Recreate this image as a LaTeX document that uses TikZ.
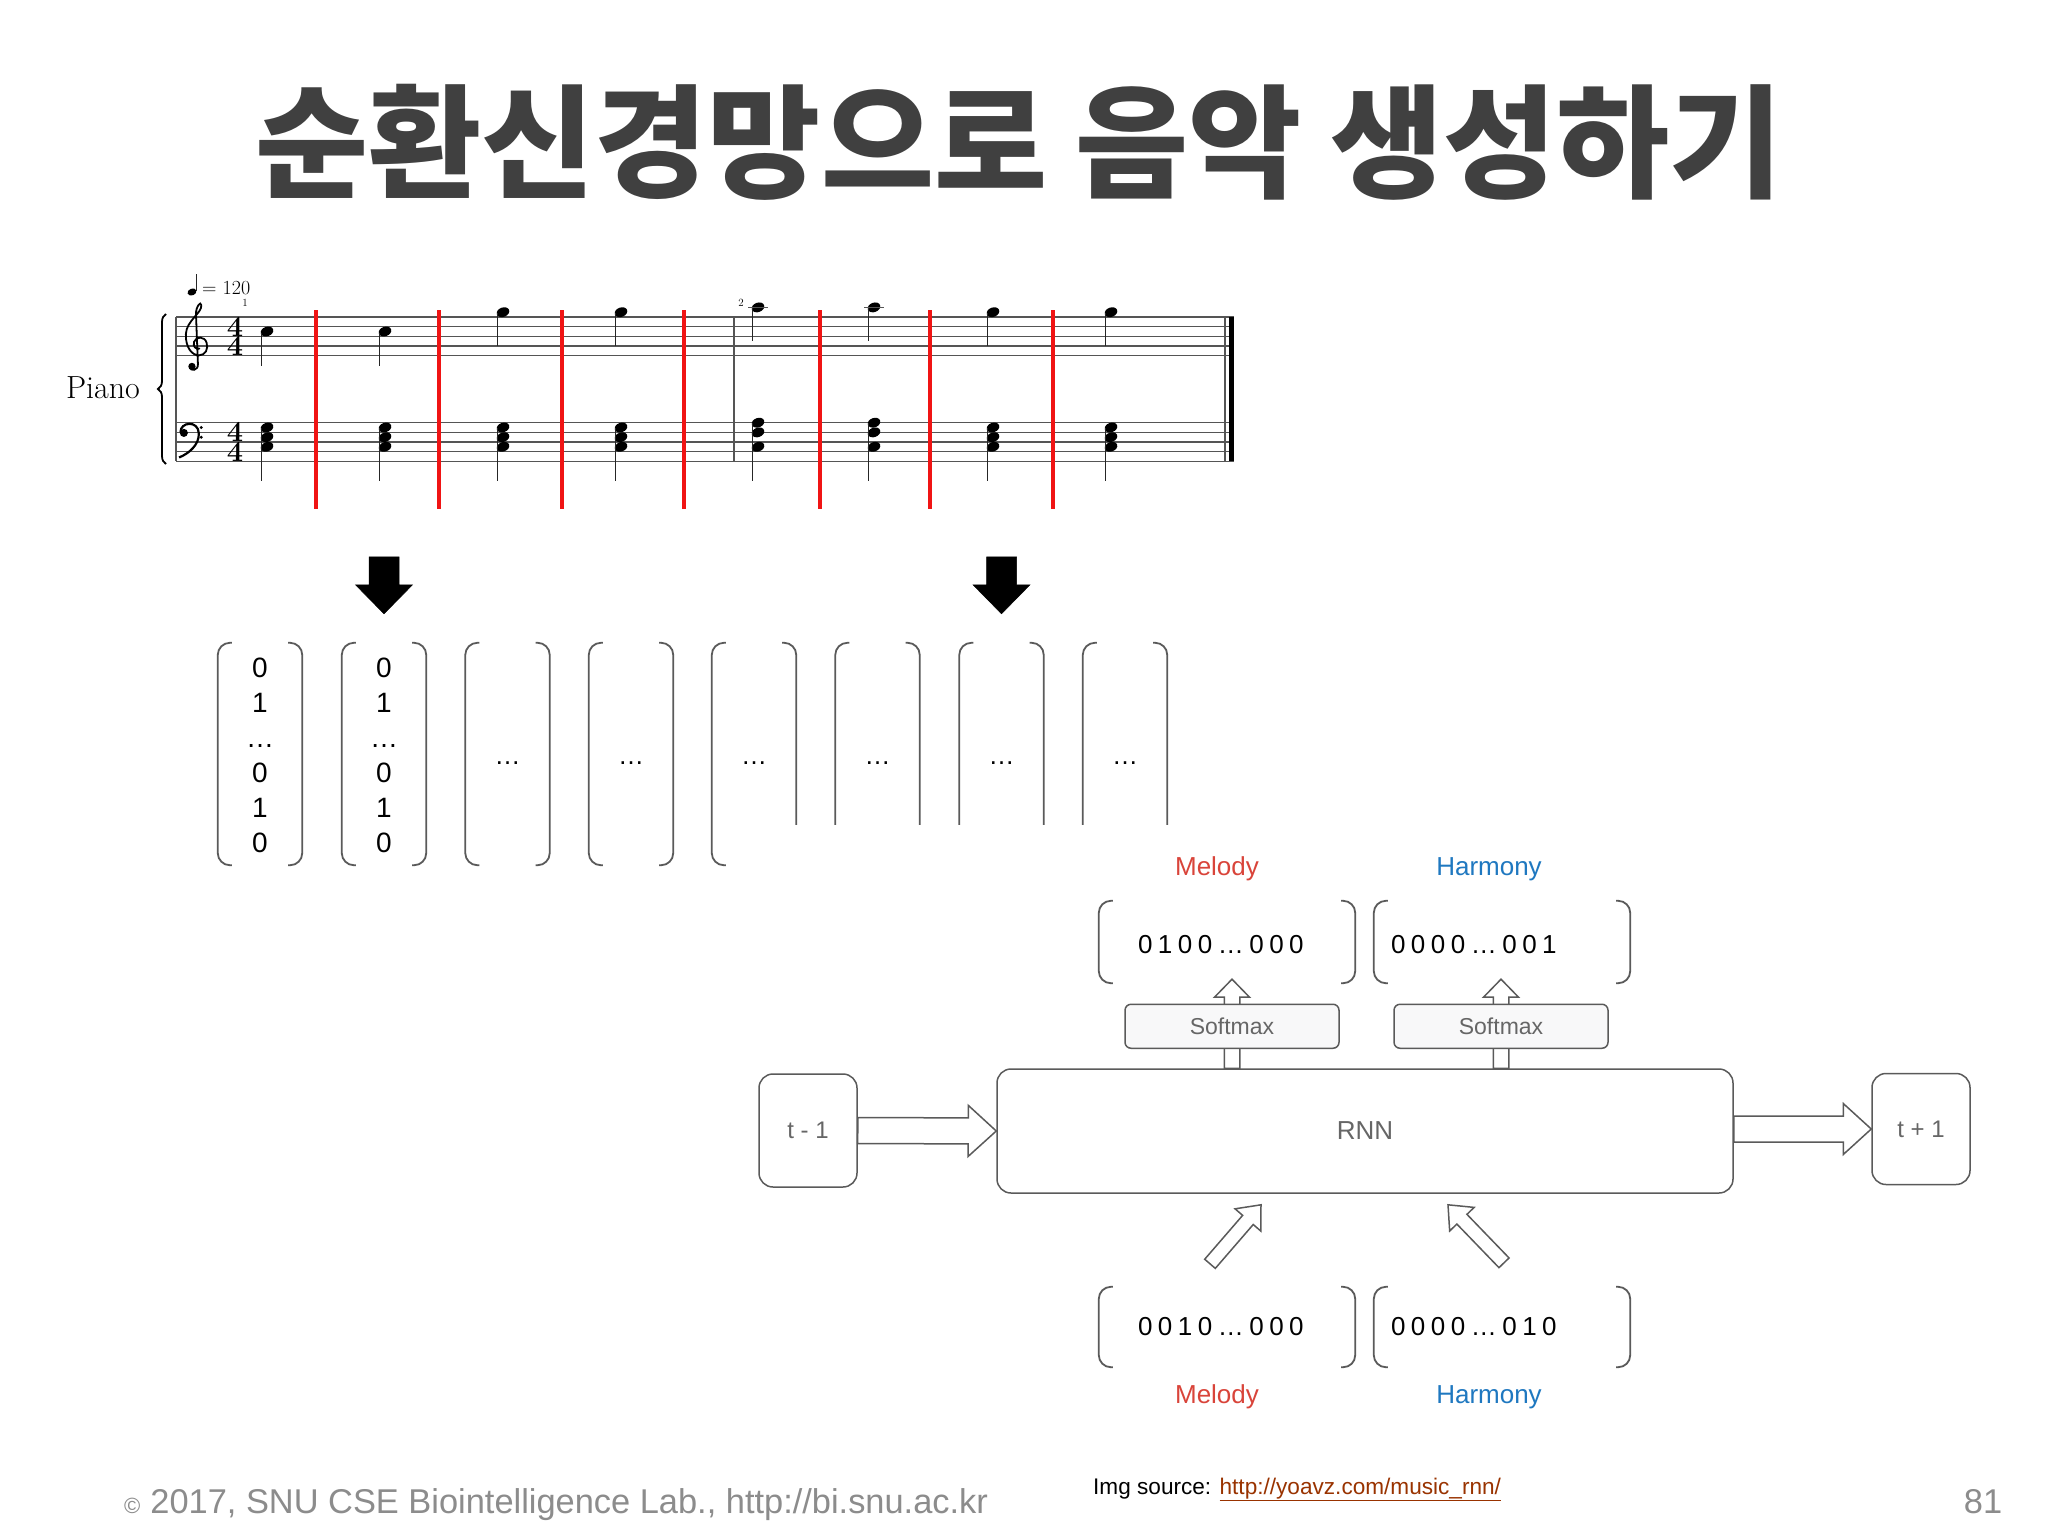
\documentclass[tikz,border=0pt]{standalone}
\usepackage{fontspec}
\usepackage{xcolor}
\usepackage{tikz}
\usetikzlibrary{positioning,calc,decorations.pathreplacing}

\newfontfamily\krfont{Noto Sans CJK KR}
\newfontfamily\sansfont{Liberation Sans}

\definecolor{titlegray}{HTML}{404040}
\definecolor{linegray}{HTML}{5A5A5A}
\definecolor{textgray}{HTML}{666666}
\definecolor{footgray}{HTML}{8C8C8C}
\definecolor{melodyred}{HTML}{D9443A}
\definecolor{harmonyblue}{HTML}{1F78C0}
\definecolor{linkbrown}{HTML}{993300}
\definecolor{barred}{HTML}{F01414}
\definecolor{staffgray}{HTML}{555555}
\definecolor{softfill}{HTML}{F8F8F9}

\tikzset{
  headline/.style={font=\krfont\bfseries\fontsize{123}{126}\selectfont, text=titlegray, inner sep=0pt},
  staff/.style={draw=staffgray, line width=1.1pt},
  stem/.style={draw=black!85, line width=1.3pt},
  redbar/.style={draw=barred, line width=4pt},
  timesig/.style={font=\bfseries\fontsize{29}{19.3}\selectfont, align=center, inner sep=0pt},
  vec/.style={minimum width=84pt, minimum height=222pt, inner sep=0pt},
  wvec/.style={minimum width=256pt, minimum height=82pt, inner sep=0pt},
  brk/.style={draw=linegray, line width=1.8pt, rounded corners=12pt},
  bits/.style={font=\sansfont\fontsize{28}{35}\selectfont, align=center, inner sep=0pt},
  ell/.style={font=\sansfont\fontsize{26}{26}\selectfont, inner sep=0pt},
  bitrow/.style={font=\sansfont\fontsize{26}{26}\selectfont, inner sep=0pt},
  tag/.style={font=\sansfont\fontsize{26}{26}\selectfont, inner sep=0pt},
  box/.style={draw=linegray, line width=1.5pt, rounded corners=14pt, text=textgray,
              font=\sansfont\fontsize{26}{26}\selectfont},
  smbox/.style={draw=linegray, line width=1.5pt, rounded corners=6pt, fill=softfill,
                minimum width=214pt, minimum height=44pt, text=textgray,
                font=\sansfont\fontsize{23}{23}\selectfont},
  hollow/.style={draw=linegray, fill=white, line width=1.5pt},
  blackarrow/.style={draw=black, fill=black, line width=0.5pt},
  foot/.style={font=\sansfont\fontsize{34.4}{34.4}\selectfont, text=footgray, inner sep=0pt},
  src/.style={font=\sansfont\fontsize{22.6}{22.6}\selectfont, inner sep=0pt},
}

% brackets round a vector node
\newcommand{\vecbrk}[1]{%
  \draw[brk] ($(#1.north west)+(14,0)$) -- (#1.north west) -- (#1.south west) -- ($(#1.south west)+(14,0)$);
  \draw[brk] ($(#1.north east)+(-14,0)$) -- (#1.north east) -- (#1.south east) -- ($(#1.south east)+(-14,0)$);}
\newcommand{\vecbrkopen}[1]{%
  \draw[brk] ($(#1.north west)+(14,0)$) -- (#1.north west) -- ($(#1.north west)+(0,182)$);
  \draw[brk] ($(#1.north east)+(-14,0)$) -- (#1.north east) -- ($(#1.north east)+(0,182)$);}
% block arrow: style, from, to, half shaft, half head, head length
\newcommand{\blockarrow}[6]{%
  \coordinate (ba-hb) at ($(#3)!#6!(#2)$);
  \draw[#1] ($(#2)!#4!90:(#3)$) -- ($(ba-hb)!#4!-90:(#2)$) -- ($(ba-hb)!#5!-90:(#2)$) -- (#3)
    -- ($(ba-hb)!#5!90:(#2)$) -- ($(ba-hb)!#4!90:(#2)$) -- ($(#2)!#4!-90:(#3)$) -- cycle;}
\newcommand{\nhead}[2]{\fill[rotate around={20:(#1,#2)}] (#1,#2) ellipse [x radius=6.5, y radius=4.7];}
\newcommand{\gap}{\kern5.5pt}

\begin{document}
\begin{tikzpicture}[x=1pt,y=-1pt]
\fill[white] (0,0) rectangle (2048,1536);
\useasboundingbox (0,0) rectangle (2048,1536);

\node[headline] (title) at (1019,142) {순환신경망으로 음악 생성하기};

% score
\foreach \k in {0,...,4} {
  \draw[staff] (176,317+9.65*\k) -- (1234,317+9.65*\k);
  \draw[staff] (176,422.7+9.65*\k) -- (1234,422.7+9.65*\k);
}
\draw[staff, line width=1.3pt] (176,317) -- (176,461.3);
\draw[staff, line width=1.3pt] (734,317) -- (734,461.3);
\draw[staff, line width=1.3pt] (1225,317) -- (1225,461.3);
\draw[black, line width=4.5pt] (1231.7,317) -- (1231.7,461.3);
\draw[decorate, decoration={brace, amplitude=8pt}, line width=1.8pt] (166,464) -- (166,314);
\node[font=\fontsize{32}{32}\selectfont] (piano) at (103,388) {Piano};

% clefs
\begin{scope}[shift={(196,345.7)}, scale=9.65]
\draw[line width=1.8pt, line cap=round] (0.2,1.9) -- (0.0,-3.2)
  .. controls (-0.05,-4.0) and (0.5,-4.7) .. (0.55,-4.2)
  .. controls (0.65,-3.4) and (-1.0,-2.6) .. (-1.05,-1.2)
  .. controls (-1.1,0.2) and (-0.4,1.0) .. (0.3,1.0)
  .. controls (1.0,1.0) and (1.3,0.3) .. (1.1,-0.3)
  .. controls (0.9,-1.0) and (0.0,-1.0) .. (-0.2,-0.4)
  .. controls (-0.35,0.1) and (0.0,0.4) .. (0.35,0.3);
\draw[line width=1.8pt] (0.2,1.9) .. controls (0.25,2.6) and (-0.6,2.7) .. (-0.6,2.2);
\fill (-0.42,2.15) circle [radius=0.38];
\end{scope}
\begin{scope}[shift={(180,432.4)}, scale=9.65]
\fill (0.4,0.05) circle [radius=0.42];
\draw[line width=2.2pt] (0.05,0.0) .. controls (0.0,-1.1) and (1.9,-1.3) .. (1.95,0.1)
  .. controls (2.0,1.3) and (0.9,2.2) .. (-0.1,2.6);
\fill (2.2,-0.5) circle [radius=0.17];
\fill (2.2,0.5) circle [radius=0.17];
\end{scope}
\node[timesig] (ts1) at (235,336.3) {4\\4};
\node[timesig] (ts2) at (235,442) {4\\4};

% tempo and bar numbers
\fill[rotate around={20:(192,292)}] (192,292) ellipse [x radius=4.6, y radius=3.4];
\draw[stem] (196.2,291) -- (196.2,274);
\node[font=\fontsize{20}{20}\selectfont, anchor=west, inner sep=0pt] (tempo) at (202,288) {= 120};
\node[font=\fontsize{11}{11}\selectfont, inner sep=0pt] (bar1) at (245,303) {1};
\node[font=\fontsize{11}{11}\selectfont, inner sep=0pt] (bar2) at (741,303) {2};

% melody
\foreach \x/\y in {267/331.5,385/331.5,503/312.2,621/312.2,758/307.4,874/307.4,993/312.2,1111/312.2} {
  \nhead{\x}{\y}
  \draw[stem] (\x-5.5,\y+1) -- (\x-5.5,\y+34);
}
\draw[staff] (748,307.4) -- (768,307.4);
\draw[staff] (864,307.4) -- (884,307.4);
% chords
\foreach \x in {267,385,503,621,993,1111} {
  \nhead{\x}{427.5} \nhead{\x}{437.2} \nhead{\x}{446.8}
  \draw[stem] (\x-5.5,427.5) -- (\x-5.5,480.5);
}
\foreach \x in {758,874} {
  \nhead{\x}{422.7} \nhead{\x}{432.4} \nhead{\x}{446.8}
  \draw[stem] (\x-5.5,422.7) -- (\x-5.5,480.5);
}
\foreach \x in {316,439,562,684,820,930,1053}
  \draw[redbar] (\x,310) -- (\x,509);

% one-hot columns
\foreach \i/\x in {1/260,2/384,3/507.5,4/631,5/754,6/877.5,7/1001.5,8/1125}
  \node[vec] (c\i) at (\x,754) {};
\foreach \i in {1,...,4} {\vecbrk{c\i}}
\draw[brk] ($(c5.north west)+(14,0)$) -- (c5.north west) -- (c5.south west) -- ($(c5.south west)+(14,0)$);
\draw[brk] ($(c5.north east)+(-14,0)$) -- (c5.north east) -- ($(c5.north east)+(0,182)$);
\foreach \i in {6,7,8} {\vecbrkopen{c\i}}
\node[bits] (b1) at ($(c1.center)+(0,1.5)$) {0\\1\\\ldots\\0\\1\\0};
\node[bits] (b2) at ($(c2.center)+(0,1.5)$) {0\\1\\\ldots\\0\\1\\0};
\foreach \i in {3,...,8}
  \node[ell] (b\i) at ($(c\i.center)+(0,9)$) {\ldots};

\coordinate (d1a) at ($(c2.north)+(0,-86)$);
\coordinate (d1b) at ($(c2.north)+(0,-29)$);
\coordinate (d2a) at ($(c7.north)+(0,-86)$);
\coordinate (d2b) at ($(c7.north)+(0,-29)$);
\blockarrow{blackarrow}{d1a}{d1b}{15pt}{28.5pt}{29pt}
\blockarrow{blackarrow}{d2a}{d2b}{15pt}{28.5pt}{29pt}

% RNN
\node[box, minimum width=736pt, minimum height=124pt] (rnn) at (1365,1131) {RNN};
\node[box, minimum width=98pt, minimum height=113pt, font=\sansfont\fontsize{24}{24}\selectfont] (tprev) at (808,1130.5) {t - 1};
\node[box, minimum width=98pt, minimum height=111pt, font=\sansfont\fontsize{24}{24}\selectfont] (tnext) at (1921,1129) {t + 1};
\coordinate (r0) at (rnn.east |- tnext.west);
\blockarrow{hollow}{tprev.east}{rnn.west}{13pt}{25.5pt}{28pt}
\blockarrow{hollow}{r0}{tnext.west}{13pt}{25.5pt}{28pt}

% output vectors
\node[wvec] (mo) at (1227,942) {};
\node[wvec] (ho) at (1502,942) {};
\vecbrk{mo} \vecbrk{ho}
\node[bitrow, anchor=west] (mot) at ($(mo.west)+(39,3)$) {0\gap1\gap0\gap0\gap\ldots\gap0\gap0\gap0};
\node[bitrow, anchor=west] (hot) at ($(ho.west)+(17,3)$) {0\gap0\gap0\gap0\gap\ldots\gap0\gap0\gap1};
\node[tag, text=melodyred] (mlab) at ($(mo.north)+(-10,-32)$) {Melody};
\node[tag, text=harmonyblue] (hlab) at ($(ho.north)+(-13,-32)$) {Harmony};

\coordinate (u1b) at ($(mo.south)+(5,-4)$);
\coordinate (u1a) at (u1b |- rnn.north);
\coordinate (u2b) at ($(ho.south)+(-1,-4)$);
\coordinate (u2a) at (u2b |- rnn.north);
\blockarrow{hollow}{u1a}{u1b}{7.75pt}{17.5pt}{18pt}
\blockarrow{hollow}{u2a}{u2b}{7.75pt}{17.5pt}{18pt}
\node[smbox] (sm1) at ($(u1a)+(0,-42)$) {Softmax};
\node[smbox] (sm2) at ($(u2a)+(0,-42)$) {Softmax};

% input vectors
\node[wvec, minimum height=80pt] (mi) at (1227,1327) {};
\node[wvec, minimum height=80pt] (hi) at (1502,1327) {};
\vecbrk{mi} \vecbrk{hi}
\node[bitrow, anchor=west] (mit) at ($(mi.west)+(39,0)$) {0\gap0\gap1\gap0\gap\ldots\gap0\gap0\gap0};
\node[bitrow, anchor=west] (hit) at ($(hi.west)+(17,0)$) {0\gap0\gap0\gap0\gap\ldots\gap0\gap1\gap0};
\node[tag, text=melodyred] (mlab2) at ($(mi.south)+(-10,30)$) {Melody};
\node[tag, text=harmonyblue] (hlab2) at ($(hi.south)+(-13,30)$) {Harmony};

\coordinate (mtail) at ($(mi.north)+(-17,-23)$);
\coordinate (mtip) at ($(mi.north)+(34,-82)$);
\coordinate (htail) at ($(hi.north)+(2,-24)$);
\coordinate (htip) at ($(hi.north)+(-54,-82)$);
\blockarrow{hollow}{mtail}{mtip}{7pt}{17pt}{20pt}
\blockarrow{hollow}{htail}{htip}{7pt}{17pt}{20pt}

% footer
\node[foot, anchor=base west] (copy) at (124,1513) {{\fontsize{22}{22}\selectfont ©}\hspace{10pt}2017, SNU CSE Biointelligence Lab., http://bi.snu.ac.kr};
\node[src, anchor=base west] (imgsrc) at (1093,1494) {Img source: \textcolor{linkbrown}{\underline{http://yoavz.com/music\_rnn/}}};
\node[foot, anchor=base] (page) at (1983,1513) {81};
\end{tikzpicture}
\end{document}
